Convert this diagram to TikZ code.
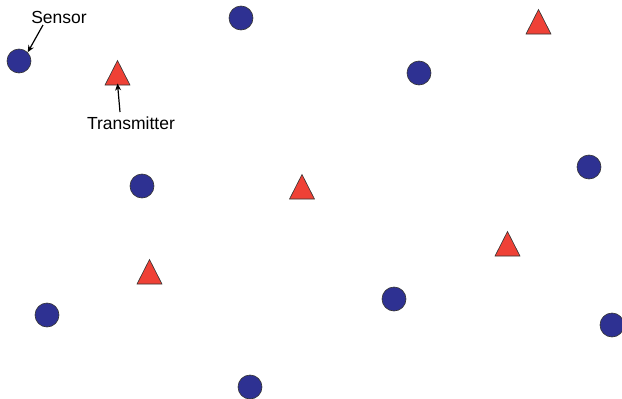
\documentclass[tikz,border=0pt]{standalone}
\usepackage{fontspec}
\setmainfont{Liberation Sans}
\usetikzlibrary{shapes.geometric,arrows.meta}
\definecolor{sensorblue}{HTML}{2E3192}
\definecolor{txred}{HTML}{EF4136}
\tikzset{
  sensor/.style={circle,draw=black!80,line width=0.6pt,fill=sensorblue,minimum size=24pt,inner sep=0pt},
  transmitter/.style={isosceles triangle,isosceles triangle apex angle=54,shape border rotate=90,draw=black!80,line width=0.6pt,fill=txred,minimum height=24.5pt,inner sep=0pt,outer sep=0pt,anchor=lower side},
  lbl/.style={font=\fontsize{17.5}{20}\selectfont,inner sep=0pt},
  pointer/.style={-{Stealth[length=7pt,width=6pt]},line width=1.2pt}
}
\begin{document}
\begin{tikzpicture}[x=1pt,y=-1pt]
\useasboundingbox (0,0) rectangle (622,399);
% sensors
\node[sensor] (s1) at (19,61) {};
\node[sensor] (s2) at (241,18) {};
\node[sensor] (s3) at (419,73) {};
\node[sensor] (s4) at (142,186) {};
\node[sensor] (s5) at (589,167) {};
\node[sensor] (s6) at (47,315) {};
\node[sensor] (s7) at (394,299) {};
\node[sensor] (s8) at (612,325) {};
\node[sensor] (s9) at (250,387) {};
% transmitters
\node[transmitter] (t1) at (117.5,85) {};
\node[transmitter] (t2) at (538.5,34) {};
\node[transmitter] (t3) at (302,199) {};
\node[transmitter] (t4) at (507.5,256) {};
\node[transmitter] (t5) at (149.5,284) {};
% labels
\node[lbl] (ls) at (59,17) {Sensor};
\node[lbl] (lt) at (131,123) {Transmitter};
\coordinate (ps) at (43,25);
\coordinate (pt) at (120,112);
\draw[pointer] (ps) -- (s1.north east);
\draw[pointer] (pt) -- ([yshift=1.5pt]t1.lower side);
\end{tikzpicture}
\end{document}
